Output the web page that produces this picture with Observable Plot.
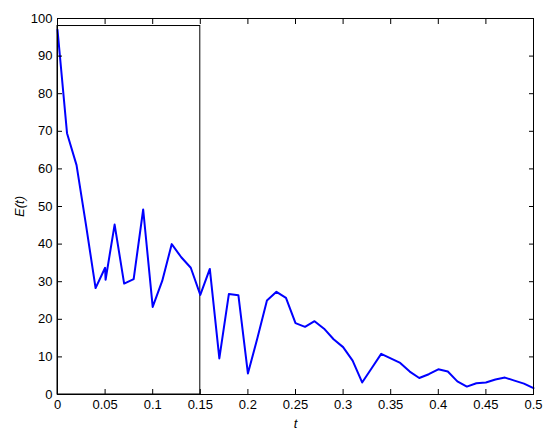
<!DOCTYPE html>
<html>
<head>
<meta charset="utf-8">
<script src="https://cdn.jsdelivr.net/npm/d3@7"></script>
<script src="https://cdn.jsdelivr.net/npm/@observablehq/plot@0.6"></script>
<style>
  html, body { margin: 0; padding: 0; background: #fff; }
  #chart svg { display: block; }
  #chart [aria-label="x-axis label"] text, #chart [aria-label="y-axis label"] text { font-style: italic; }
</style>
</head>
<body>
<div id="chart"></div>
<script>
const tValues = [0, 0.01, 0.02, 0.03, 0.04, 0.05, 0.0505, 0.06, 0.07, 0.08, 0.09, 0.10, 0.11, 0.12, 0.13, 0.14, 0.15,
  0.16, 0.17, 0.18, 0.19, 0.20, 0.21, 0.22, 0.23, 0.24, 0.25, 0.26, 0.27, 0.28, 0.29, 0.30,
  0.31, 0.32, 0.33, 0.34, 0.35, 0.36, 0.37, 0.38, 0.39, 0.40, 0.41, 0.42, 0.43, 0.44, 0.45,
  0.46, 0.47, 0.48, 0.49, 0.50];
const eValues = [97, 69.5, 61, 45, 28.3, 33.7, 30.5, 45.2, 29.5, 30.7, 49.2, 23.3, 30.2, 40, 36.5, 33.7, 26.5,
  33.4, 9.6, 26.7, 26.4, 5.6, 15, 25, 27.3, 25.7, 19, 18, 19.5, 17.5, 14.7, 12.6,
  9, 3.2, 7, 10.8, 9.6, 8.4, 6.1, 4.4, 5.4, 6.7, 6.1, 3.5, 2.1, 3, 3.2,
  4, 4.5, 3.7, 2.9, 1.7];
const boxT = [0, 0.15];
const boxE = [0, 98];
const xTicks = [0, 0.05, 0.1, 0.15, 0.2, 0.25, 0.3, 0.35, 0.4, 0.45, 0.5];
const yTicks = [0, 10, 20, 30, 40, 50, 60, 70, 80, 90, 100];

const data = tValues.map((t, i) => ({t, e: eValues[i]}));
const box = [{x1: boxT[0], x2: boxT[1], y1: boxE[0], y2: boxE[1]}];
const fmt = d => String(d);
const blank = () => "";

const chart = Plot.plot({
  width: 550,
  height: 438,
  marginLeft: 57,
  marginRight: 17,
  marginTop: 18,
  marginBottom: 44,
  style: {fontFamily: "'Liberation Sans', Arial, sans-serif", fontSize: "13px", color: "#000", background: "#fff"},
  x: {domain: [0, 0.5]},
  y: {domain: [0, 100]},
  marks: [
    Plot.rect(box, {x1: "x1", x2: "x2", y1: "y1", y2: "y2", fill: "none", stroke: "#000", strokeWidth: 1}),
    Plot.line(data, {x: "t", y: "e", stroke: "#0000ff", strokeWidth: 2}),
    Plot.frame({stroke: "#000", strokeWidth: 1}),
    Plot.axisX(xTicks, {anchor: "bottom", tickSize: 0, tickPadding: 5, tickFormat: fmt, label: "t", labelAnchor: "center", labelArrow: false, labelOffset: 33, fontSize: 13}),
    Plot.axisX(xTicks, {anchor: "bottom", tickSize: 5, dy: -5, tickFormat: blank, label: null, stroke: "#000"}),
    Plot.axisX(xTicks, {anchor: "top", tickSize: 5, dy: 5, tickFormat: blank, label: null, stroke: "#000"}),
    Plot.axisY(yTicks, {anchor: "left", tickSize: 0, tickPadding: 5, tickFormat: fmt, label: "E(t)", labelAnchor: "center", labelArrow: false, labelOffset: 43, fontSize: 13}),
    Plot.axisY(yTicks, {anchor: "left", tickSize: 5, dx: 5, tickFormat: blank, label: null, stroke: "#000"}),
    Plot.axisY(yTicks, {anchor: "right", tickSize: 5, dx: -5, tickFormat: blank, label: null, stroke: "#000"})
  ]
});
document.getElementById("chart").appendChild(chart);
</script>
</body>
</html>
